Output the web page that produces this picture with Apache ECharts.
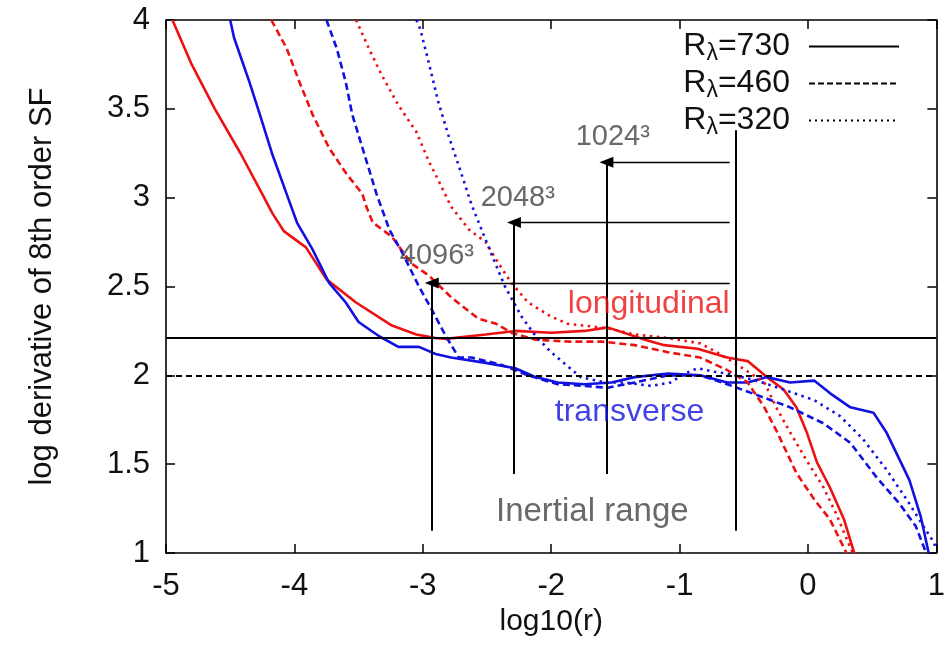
<!DOCTYPE html>
<html><head><meta charset="utf-8">
<script src="https://cdn.jsdelivr.net/npm/echarts@6/dist/echarts.min.js"></script>
<style>html,body{margin:0;padding:0;background:#fff}#c{width:948px;height:657px}</style>
</head><body><div id="c"></div>
<script>
// ---- data ----
const xRange = [-5, 1];
const yRange = [1, 4];
const L730 = [[-4.95,4.0],[-4.8,3.75],[-4.62,3.5],[-4.42,3.25],[-4.25,3.02],[-4.17,2.91],[-4.08,2.81],[-3.91,2.72],[-3.75,2.54],[-3.52,2.41],[-3.24,2.28],[-3.05,2.23],[-2.9,2.21],[-2.82,2.205],[-2.51,2.23],[-2.28,2.25],[-2.0,2.24],[-1.74,2.25],[-1.56,2.27],[-1.27,2.2],[-1.12,2.17],[-0.86,2.15],[-0.63,2.1],[-0.47,2.08],[-0.32,1.99],[-0.19,1.92],[-0.09,1.82],[-0.01,1.68],[0.07,1.51],[0.17,1.37],[0.28,1.19],[0.36,1.0]];
const T730 = [[-4.5,4.0],[-4.47,3.9],[-4.35,3.65],[-4.27,3.47],[-4.17,3.24],[-4.06,3.02],[-3.98,2.86],[-3.86,2.71],[-3.73,2.52],[-3.6,2.41],[-3.5,2.3],[-3.34,2.22],[-3.19,2.16],[-3.03,2.16],[-2.9,2.12],[-2.78,2.1],[-2.51,2.07],[-2.28,2.04],[-2.12,1.99],[-1.95,1.96],[-1.74,1.95],[-1.53,1.96],[-1.35,1.99],[-1.09,2.01],[-0.84,2.0],[-0.63,1.96],[-0.47,1.96],[-0.32,1.99],[-0.14,1.96],[0.05,1.97],[0.17,1.9],[0.33,1.82],[0.51,1.79],[0.61,1.68],[0.79,1.41],[0.88,1.2],[0.94,1.0]];
const L460 = [[-4.18,4.0],[-4.06,3.84],[-3.96,3.65],[-3.86,3.47],[-3.73,3.28],[-3.6,3.14],[-3.47,3.02],[-3.44,2.95],[-3.39,2.86],[-3.24,2.78],[-3.09,2.63],[-2.95,2.56],[-2.78,2.44],[-2.57,2.32],[-2.43,2.29],[-2.31,2.24],[-2.12,2.2],[-1.87,2.19],[-1.61,2.19],[-1.35,2.17],[-1.09,2.13],[-0.84,2.1],[-0.63,2.03],[-0.47,1.96],[-0.34,1.82],[-0.24,1.68],[-0.09,1.45],[0.05,1.3],[0.17,1.19],[0.3,1.0]];
const T460 = [[-3.75,4.0],[-3.67,3.84],[-3.6,3.65],[-3.55,3.47],[-3.47,3.28],[-3.36,3.02],[-3.26,2.82],[-3.16,2.69],[-3.03,2.5],[-2.93,2.37],[-2.82,2.22],[-2.72,2.1],[-2.62,2.1],[-2.39,2.06],[-2.18,2.0],[-1.95,1.95],[-1.74,1.94],[-1.56,1.93],[-1.35,1.96],[-1.09,2.0],[-0.84,2.0],[-0.63,1.95],[-0.4,1.89],[-0.14,1.82],[0.12,1.73],[0.33,1.62],[0.53,1.43],[0.71,1.28],[0.84,1.15],[0.92,1.0]];
const L320 = [[-3.52,4.0],[-3.42,3.84],[-3.32,3.69],[-3.19,3.52],[-3.05,3.37],[-2.95,3.2],[-2.88,3.1],[-2.78,2.95],[-2.64,2.82],[-2.51,2.75],[-2.41,2.63],[-2.31,2.52],[-2.18,2.41],[-2.0,2.33],[-1.87,2.29],[-1.74,2.28],[-1.53,2.26],[-1.35,2.23],[-1.09,2.21],[-0.84,2.18],[-0.71,2.13],[-0.53,2.05],[-0.34,1.96],[-0.24,1.81],[-0.14,1.68],[-0.01,1.52],[0.12,1.37],[0.22,1.22],[0.33,1.03],[0.35,1.0]];
const T320 = [[-3.05,4.0],[-3.02,3.95],[-2.95,3.75],[-2.88,3.54],[-2.8,3.35],[-2.72,3.18],[-2.62,2.96],[-2.57,2.87],[-2.47,2.69],[-2.36,2.5],[-2.23,2.33],[-2.12,2.22],[-2.0,2.13],[-1.87,2.05],[-1.77,1.99],[-1.58,1.96],[-1.43,1.96],[-1.22,1.94],[-1.07,1.96],[-0.96,2.01],[-0.86,2.04],[-0.73,2.02],[-0.63,2.01],[-0.4,1.97],[-0.19,1.92],[0.05,1.86],[0.25,1.77],[0.43,1.64],[0.61,1.47],[0.77,1.3],[0.9,1.15],[0.98,1.06],[1.0,1.02]];
const reynolds = ['730', '460', '320'];
const refLevels = [2.21, 2.0];
const resolutions = ['4096³', '2048³', '1024³'];
const arrowY = [2.52, 2.86, 3.2];
const arrowTipX = [-2.93, -2.29, -1.57];
const arrowStartX = -0.61;
const arrowBottomY = [1.125, 1.445, 1.445];
const rangeRight = { x: -0.566, top: 3.38, bottom: 1.125 };
const resLabelPos = [[-2.89, 2.67], [-2.26, 3.0], [-1.52, 3.34]];
const textLabels = [
  { text: 'longitudinal', pos: [-1.24, 2.40], color: '#ee1111', size: 32 },
  { text: 'transverse', pos: [-1.39, 1.79], color: '#1111e0', size: 32 },
  { text: 'Inertial range', pos: [-1.68, 1.23], color: '#444444', size: 33 }
];

// ---- styles ----
const RED = '#ee1111', BLUE = '#1111e0';
const FONT = 'Liberation Sans, Arial, Helvetica, sans-serif';
const DASH = [7, 4], DOT = [2.5, 4.5];
const LW = 2.6;

function curve(name, data, color, type) {
  return { name, type: 'line', data, showSymbol: false, symbol: 'none', z: 3,
    lineStyle: { color, width: LW, type }, emphasis: { disabled: true } };
}

const annoLines = [];
resolutions.forEach((r, i) => {
  annoLines.push([{ coord: [arrowStartX, arrowY[i]], symbol: 'none' },
                  { coord: [arrowTipX[i], arrowY[i]], symbol: 'triangle', symbolSize: [11, 14] }]);
  annoLines.push([{ coord: [arrowTipX[i], arrowY[i]], symbol: 'none', lineStyle: { width: 2 } },
                  { coord: [arrowTipX[i], arrowBottomY[i]], symbol: 'none' }]);
});
annoLines.push([{ coord: [rangeRight.x, rangeRight.top], symbol: 'none', lineStyle: { width: 2 } },
                { coord: [rangeRight.x, rangeRight.bottom], symbol: 'none' }]);

const labelData = resolutions.map((r, i) => ({ value: resLabelPos[i], label: { formatter: r, color: '#444444', fontSize: 29 } }))
  .concat(textLabels.map(t => ({ value: t.pos, label: { formatter: t.text, color: t.color, fontSize: t.size } })));

const axisCommonX = { type: 'value', min: xRange[0], max: xRange[1], interval: 1,
  axisLine: { onZero: false, lineStyle: { color: '#000', width: 1.6 } },
  axisTick: { inside: true, length: 9, lineStyle: { color: '#000', width: 1.5 } },
  splitLine: { show: false } };
const axisCommonY = { type: 'value', min: yRange[0], max: yRange[1], interval: 0.5,
  axisLine: { onZero: false, lineStyle: { color: '#000', width: 1.6 } },
  axisTick: { inside: true, length: 9, lineStyle: { color: '#000', width: 1.5 } },
  splitLine: { show: false } };

const option = {
  animation: false,
  backgroundColor: '#fff',
  textStyle: { fontFamily: FONT },
  grid: { left: 166, right: 8, top: 20, bottom: 104 },
  xAxis: [
    Object.assign({}, axisCommonX, { position: 'bottom',
      axisLabel: { fontSize: 31, color: '#111', margin: 18, fontFamily: FONT },
      name: 'log10(r)', nameLocation: 'middle', nameGap: 44,
      nameTextStyle: { fontSize: 30, color: '#111', fontFamily: FONT } }),
    Object.assign({}, axisCommonX, { position: 'top', axisLabel: { show: false } })
  ],
  yAxis: [
    Object.assign({}, axisCommonY, { position: 'left',
      axisLabel: { fontSize: 31, color: '#111', margin: 16, fontFamily: FONT },
      name: 'log derivative of 8th order SF', nameLocation: 'middle', nameGap: 108,
      nameTextStyle: { fontSize: 31, color: '#111', fontFamily: FONT } }),
    Object.assign({}, axisCommonY, { position: 'right', axisLabel: { show: false } })
  ],
  legend: {
    data: reynolds, orient: 'vertical', right: 48, top: 28, align: 'right', padding: 0,
    itemWidth: 90, itemHeight: 14, itemGap: 0, selectedMode: false,
    itemStyle: { opacity: 0 },
    formatter: n => '{r|R}{s|λ}{r|=' + n + '}{g|}',
    textStyle: { fontFamily: FONT, color: '#111', rich: {
      r: { fontSize: 32, fontFamily: FONT, color: '#111', lineHeight: 26 },
      s: { fontSize: 23, fontFamily: FONT, color: '#111', padding: [14, 0, 0, 0], lineHeight: 12 },
      g: { width: 14 } } }
  },
  series: [
    { name: 'refs', type: 'line', data: [], z: 2,
      markLine: { silent: true, symbol: 'none', label: { show: false }, animation: false,
        lineStyle: { color: '#000', width: 2.2 },
        data: [ { yAxis: refLevels[0], lineStyle: { type: 'solid' } },
                { yAxis: refLevels[1], lineStyle: { type: [6, 4] } } ] } },
    { name: 'annot', type: 'line', data: [], z: 4,
      markLine: { silent: true, label: { show: false }, animation: false,
        lineStyle: { color: '#000', width: 1.3, type: 'solid' }, data: annoLines } },
    curve('L730', L730, RED, 'solid'),
    curve('T730', T730, BLUE, 'solid'),
    curve('L460', L460, RED, DASH),
    curve('T460', T460, BLUE, DASH),
    curve('L320', L320, RED, DOT),
    curve('T320', T320, BLUE, DOT),
    { name: reynolds[0], type: 'line', data: [], symbol: 'none', itemStyle: { color: '#000' }, lineStyle: { color: '#000', width: 2.2, type: 'solid' } },
    { name: reynolds[1], type: 'line', data: [], symbol: 'none', itemStyle: { color: '#000' }, lineStyle: { color: '#000', width: 2.2, type: [6, 3] } },
    { name: reynolds[2], type: 'line', data: [], symbol: 'none', itemStyle: { color: '#000' }, lineStyle: { color: '#000', width: 2.2, type: [2, 4] } },
    { name: 'labels', type: 'scatter', data: labelData, symbolSize: 0, z: 5, silent: true,
      label: { show: true, position: 'inside', fontFamily: FONT } }
  ]
};
const chart = echarts.init(document.getElementById('c'), null, { renderer: 'canvas' });
chart.setOption(option);
</script></body></html>
